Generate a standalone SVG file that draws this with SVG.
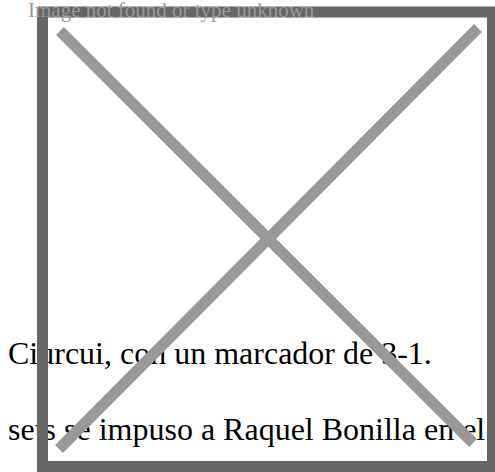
<svg xmlns="http://www.w3.org/2000/svg" width="495" height="472" viewBox="0 0 495 472">
<style>
.body{font-family:"Liberation Serif","Times New Roman",serif;font-size:32px;fill:#000}
.cap{font-family:"Liberation Serif","Times New Roman",serif;font-size:21px;fill:#999}
.cross{stroke:#999;stroke-width:11;stroke-linecap:butt}
</style>
<rect width="495" height="472" fill="#fff"/>
<g id="text">
<text class="body" x="8" y="364">Ciurcui, con un marcador de 3-1.</text>
<text class="body" x="8" y="440">sets se impuso a Raquel Bonilla en el</text>
</g>
<g id="placeholder">
<rect x="42.5" y="12" width="450" height="454.5" fill="none" stroke="#666" stroke-width="11"/>
<line class="cross" x1="60" y1="31" x2="473" y2="443"/>
<line class="cross" x1="478" y1="28" x2="59" y2="449"/>
</g>
<text class="cap" x="28" y="17">Image not found or type unknown</text>
</svg>
